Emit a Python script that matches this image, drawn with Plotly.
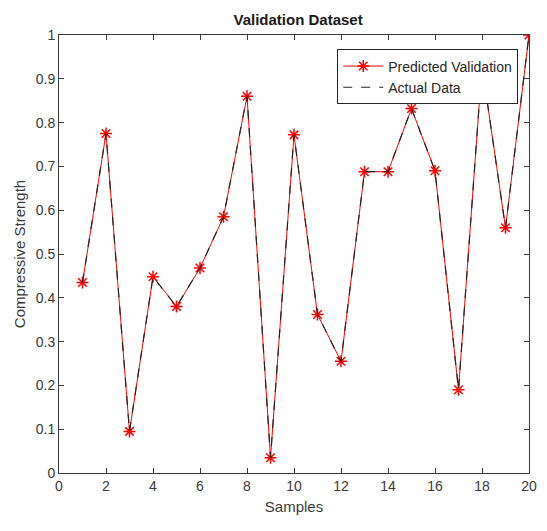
import plotly.graph_objects as go

samples = list(range(1, 21))
predicted = [0.435, 0.775, 0.095, 0.448, 0.38, 0.468, 0.585, 0.86, 0.035, 0.772,
             0.362, 0.255, 0.688, 0.688, 0.832, 0.69, 0.19, 0.93, 0.56, 1.0]
actual = [0.435, 0.775, 0.095, 0.448, 0.38, 0.468, 0.585, 0.86, 0.035, 0.772,
          0.362, 0.255, 0.688, 0.688, 0.832, 0.69, 0.19, 0.93, 0.56, 1.0]

x_ticks = list(range(0, 21, 2))
y_ticks = [round(v * 0.1, 1) for v in range(0, 11)]
y_tick_text = ["0"] + [f"{v:.1f}" for v in y_ticks[1:-1]] + ["1"]

fig = go.Figure()
fig.add_trace(go.Scatter(
    x=samples, y=predicted, name="Predicted Validation",
    mode="lines+markers",
    line=dict(color="#ff0000", width=1),
    marker=dict(symbol="asterisk-open", size=10,
                line=dict(color="#e00000", width=1.5)),
))
fig.add_trace(go.Scatter(
    x=samples, y=actual, name="Actual Data",
    mode="lines",
    line=dict(color="#222222", width=1.2, dash="dash"),
))

axis_common = dict(
    showgrid=False, zeroline=False, showline=True, mirror="ticks",
    linecolor="#3a3a3a", linewidth=1, ticks="inside", ticklen=5,
    tickcolor="#3a3a3a", tickfont=dict(family="Liberation Sans, Arial", size=14, color="#3a3a3a"),
)

fig.update_layout(
    width=547, height=531,
    margin=dict(l=59, r=10, t=35, b=58),
    paper_bgcolor="white", plot_bgcolor="white",
    title=dict(text="<b>Validation Dataset</b>", x=0.545, xanchor="center",
               y=0.962, yanchor="middle",
               font=dict(family="Liberation Sans, Arial", size=15, color="#1a1a1a")),
    xaxis=dict(range=[0, 20], tickvals=x_ticks,
               title=dict(text="Samples", standoff=8,
                          font=dict(family="Liberation Sans, Arial", size=15, color="#3a3a3a")),
               **axis_common),
    yaxis=dict(range=[0, 1], tickvals=y_ticks, ticktext=y_tick_text,
               title=dict(text="Compressive Strength", standoff=6,
                          font=dict(family="Liberation Sans, Arial", size=15, color="#3a3a3a")),
               **axis_common),
    legend=dict(x=0.592, y=0.967, xanchor="left", yanchor="top",
                bgcolor="white", bordercolor="#262626", borderwidth=1,
                font=dict(family="Liberation Sans, Arial", size=14, color="#262626"),
                tracegroupgap=0, itemwidth=40),
    showlegend=True,
)

fig.write_html("out.html")
